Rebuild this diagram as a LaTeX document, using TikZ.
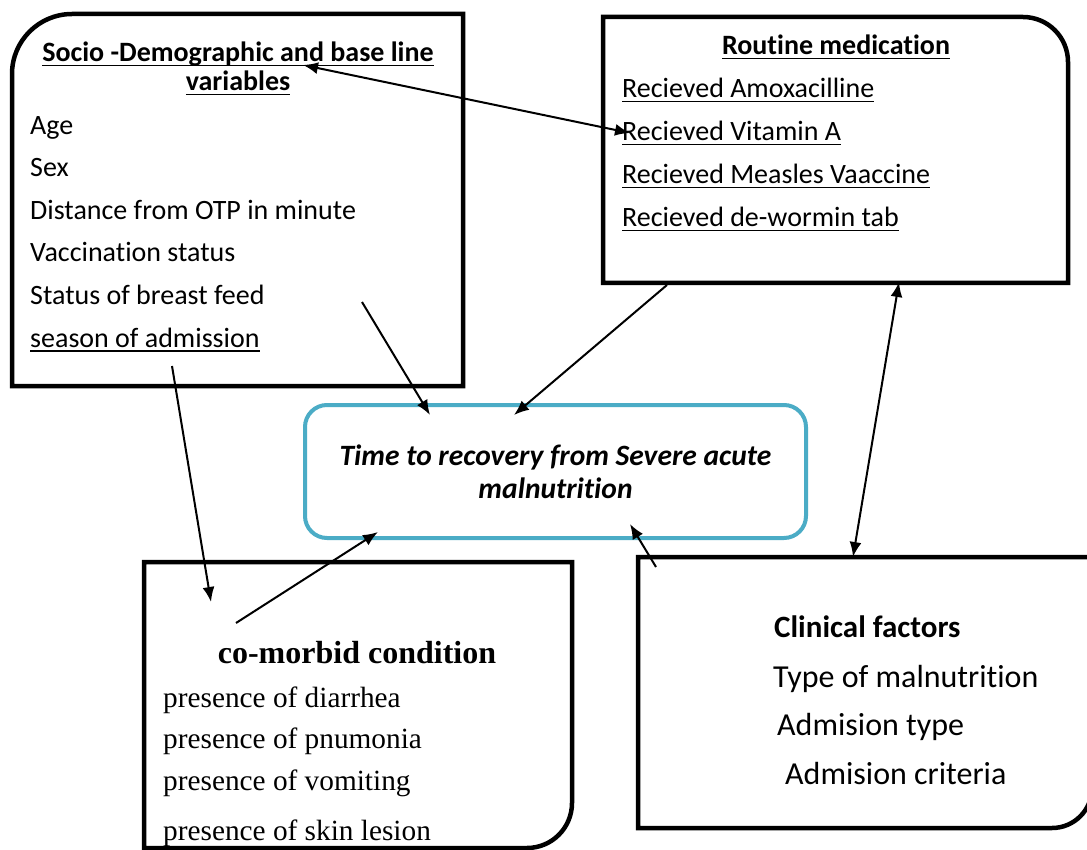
\documentclass[tikz,border=0pt]{standalone}
\usepackage{fontspec}
\setmainfont{Carlito}[Ligatures={NoCommon,NoContextual},RawFeature={-liga;-clig;-calt;-dlig}]
\newfontfamily\tnr{Liberation Serif}
\usetikzlibrary{arrows.meta}
\definecolor{boxblue}{RGB}{75,172,198}
\newsavebox\ulbox
\newcommand\myul[1]{\sbox\ulbox{#1}\rlap{\rule[-4.5pt]{\wd\ulbox}{1.8pt}}\usebox\ulbox}
\tikzset{
  frame/.style={line width=4.5pt, line join=miter},
  txt/.style={anchor=base west, inner sep=0pt, font=\fontsize{28}{34}\selectfont},
  ttl/.style={anchor=base, inner sep=0pt, font=\bfseries\fontsize{28}{29}\selectfont, align=center},
  tnrtxt/.style={anchor=base west, inner sep=0pt, font=\tnr\fontsize{29.3}{34}\selectfont},
  cltxt/.style={anchor=base west, inner sep=0pt, font=\fontsize{32}{38}\selectfont},
  arr/.style={line width=2pt, -{Latex[length=15pt,width=12pt]}},
  darr/.style={line width=2pt, {Latex[length=15pt,width=12pt]}-{Latex[length=15pt,width=12pt]}},
}
\begin{document}
\begin{tikzpicture}[x=1pt,y=-1pt]
\useasboundingbox (0,0) rectangle (1087,850);
\fill[white] (0,0) rectangle (1087,850);

% Socio-demographic box (top-left rounded)
\draw[frame] (12,386) -- (12,74) arc[start angle=180,end angle=270,radius=60] -- (463,14) -- (463,386) -- cycle;
\node[ttl] (sociot) at (238,62) {\myul{Socio -Demographic and base line}};
\node[ttl] (sociot2) at (238,91) {\myul{variables}};
\node[txt] (age) at (30,135) {Age};
\node[txt] (sex) at (30,177) {Sex};
\node[txt] (dist) at (30,220) {Distance from OTP in minute};
\node[txt] (vacc) at (30,262) {Vaccination status};
\node[txt] (breast) at (30,305) {Status of breast feed};
\node[txt] (season) at (30,347) {\myul{season of admission}};

% Routine medication box (top-right rounded)
\draw[frame] (603,283) -- (603,17) -- (1023,17) arc[start angle=270,end angle=360,radius=45] -- (1068,283) -- cycle;
\node[ttl] (routt) at (836,55) {\myul{Routine medication}};
\node[txt] (amox) at (622,98) {\myul{Recieved Amoxacilline}};
\node[txt] (vita) at (622,141) {\myul{Recieved Vitamin A}};
\node[txt] (meas) at (622,184) {\myul{Recieved Measles Vaaccine}};
\node[txt] (worm) at (622,227) {\myul{Recieved de-wormin tab}};

% Central outcome box
\node[draw=boxblue, line width=4pt, rounded corners=22pt, minimum width=501pt, minimum height=133pt,
      align=center, inner sep=0pt, font=\bfseries\itshape\fontsize{29.5}{33}\selectfont] (target) at (555.5,471.5)
      {Time to recovery from Severe acute\\malnutrition};

% Co-morbid box (bottom-right rounded)
\draw[frame] (144,848) -- (144,562) -- (572,562) -- (572,803) arc[start angle=0,end angle=90,radius=45] -- cycle;
\node[anchor=base, inner sep=0pt, font=\tnr\bfseries\fontsize{32}{38}\selectfont] (comt) at (357,663) {co-morbid condition};
\node[tnrtxt] (diar) at (163,707) {presence of diarrhea};
\node[tnrtxt] (pneu) at (163,748) {presence of pnumonia};
\node[tnrtxt] (vomi) at (163,790) {presence of vomiting};
\node[tnrtxt] (skin) at (163,840) {presence of skin lesion};

% Clinical factors box (bottom-right rounded)
\draw[frame] (638,828) -- (638,557) -- (1092,557) -- (1092,788) arc[start angle=0,end angle=90,radius=40] -- cycle;
\node[cltxt, font=\bfseries\fontsize{31}{38}\selectfont] (clint) at (774,637) {Clinical factors};
\node[cltxt] (typem) at (773,687) {Type of malnutrition};
\node[cltxt] (admt) at (777,735) {Admision type};
\node[cltxt] (admc) at (785,784) {Admision criteria};

% connector end points
\coordinate (a1s) at (303,65);
\coordinate (a1e) at (630,133);
\coordinate (a2s) at (362,302);
\coordinate (a2e) at (430,415);
\coordinate (a3s) at (667,285);
\coordinate (a3e) at (514,415);
\coordinate (a4s) at (172,366);
\coordinate (a4e) at (211,602);
\coordinate (a5s) at (236,623);
\coordinate (a5e) at (378,532);
\coordinate (a6s) at (656,567);
\coordinate (a6e) at (630,524);
\coordinate (a7s) at (899,282);
\coordinate (a7e) at (853,557);

\draw[darr] (a1s) -- (a1e);
\draw[arr] (a2s) -- (a2e);
\draw[arr] (a3s) -- (a3e);
\draw[arr] (a4s) -- (a4e);
\draw[arr] (a5s) -- (a5e);
\draw[arr] (a6s) -- (a6e);
\draw[darr] (a7s) -- (a7e);
\end{tikzpicture}
\end{document}
